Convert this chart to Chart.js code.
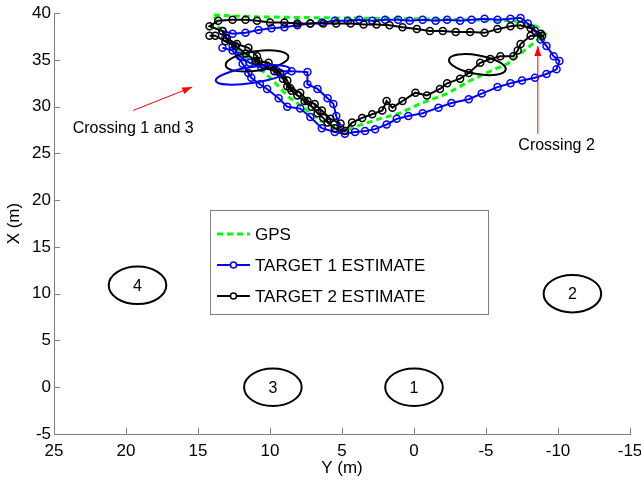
<!DOCTYPE html>
<html>
<head>
<meta charset="utf-8">
<script src="https://cdn.jsdelivr.net/npm/chart.js@4"></script>
<style>
  html, body { margin: 0; padding: 0; background: #fff; }
  #wrap { width: 641px; height: 483px; }
</style>
</head>
<body>
<div id="wrap"><canvas id="trackChart"></canvas></div>
<script>
// Horizontal axis is Y (m), vertical axis is X (m)
const gpsY = [13.9, 10.7, 5.8, -0.4, -6.9, -8.5, -9.1, -7.9, -6.5, -5.3, -3.9, -2.3, -0.4, 1.0, 2.4, 3.8, 4.8, 6.5, 7.4, 8.6, 10.0, 11.7, 12.9, 13.6, 13.9];
const gpsX = [39.8, 39.6, 39.5, 39.4, 39.2, 38.6, 37.8, 36.3, 34.6, 33.8, 32.8, 31.4, 30.3, 29.3, 28.7, 28.0, 27.4, 28.5, 29.6, 30.9, 33.1, 35.4, 37.0, 38.6, 39.8];

// Target 1 estimate
const t1Y = [5.1, 5.4, 5.6, 6.0, 6.7, 7.4, 7.4, 8.5, 9.5, 10.6, 11.4, 12.1, 12.6, 13.1, 13.3,
  12.6, 11.7, 10.8, 9.9, 9.0, 8.1, 7.2, 6.4, 5.5, 4.6, 3.8, 2.9, 2.0, 1.1, 0.3, -0.6, -1.5, -2.3, -3.2, -4.0, -4.9, -5.8, -6.7, -7.4,
  -7.9, -8.4, -8.8, -9.2, -9.7, -10.1, -9.9, -9.2, -8.4, -7.5, -6.7, -5.8, -4.7, -3.8, -2.6, -1.7, -0.6, 0.4, 1.2, 1.9, 2.7, 3.4, 4.1, 4.8,
  5.5, 6.4, 7.2, 7.9, 8.8, 9.4, 10.2, 10.7, 11.3, 11.5, 11.9, 12.6, 13.3];
const t1X = [27.7, 29.0, 30.3, 30.9, 31.9, 32.4, 33.7, 33.8, 33.8, 34.2, 34.7, 35.4, 36.5, 37.4, 38.1,
  37.8, 37.9, 38.2, 38.4, 38.5, 38.7, 38.9, 39.0, 39.2, 39.2, 39.3, 39.2, 39.3, 39.3, 39.2, 39.3, 39.2, 39.3, 39.2, 39.3, 39.4, 39.3, 39.4, 39.5,
  38.9, 38.1, 37.2, 36.5, 35.4, 34.9, 34.0, 33.5, 33.1, 32.8, 32.5, 32.1, 31.4, 30.8, 30.4, 29.9, 29.3, 29.0, 28.7, 28.1, 27.6, 27.4, 27.3, 27.1,
  27.3, 27.7, 28.9, 29.8, 30.0, 30.9, 31.9, 32.4, 33.1, 33.6, 34.6, 36.0, 36.3];

// Target 2 estimate
const t2Y = [5.1, 5.8, 6.4, 6.9, 7.4, 7.9, 8.6, 8.8, 9.3, 10.1, 10.8, 10.9, 11.5, 12.3, 13.0, 13.3, 14.2,
  13.6, 12.6, 11.7, 10.9, 10.0, 9.0, 8.1, 7.2, 6.3, 5.4, 4.4, 3.5, 2.6, 1.7, 0.8, -0.2, -1.1, -2.0, -2.9, -3.9, -4.9, -5.8, -6.7, -7.4, -8.1, -8.8,
  -8.9, -8.1, -7.4, -7.2, -6.9, -6.0, -5.3, -4.6, -3.8, -3.2, -2.3, -1.8, -0.9, -0.1, 0.8, 1.5, 1.9, 2.2, 2.9, 3.6, 4.3, 4.8,
  5.5, 6.0, 6.3, 6.7, 7.1, 7.6, 8.1, 8.5, 8.8, 9.1, 9.7, 10.4, 11.0, 11.7, 12.4, 13.1, 13.8, 14.2];
const t2X = [28.2, 28.7, 29.6, 30.3, 30.6, 31.5, 32.0, 32.8, 33.6, 34.7, 34.9, 35.4, 36.3, 36.7, 37.3, 38.1, 38.6,
  39.2, 39.3, 39.3, 39.2, 39.0, 39.0, 38.9, 38.9, 38.9, 38.9, 38.9, 38.8, 38.8, 38.7, 38.5, 38.3, 38.1, 38.1, 38.0, 38.0, 37.9, 38.3, 38.6, 38.7, 38.4, 37.8,
  37.6, 37.6, 36.7, 36.0, 35.4, 35.4, 35.1, 34.7, 33.6, 33.0, 32.5, 31.9, 31.2, 31.5, 30.6, 29.9, 30.6, 29.6, 29.2, 28.8, 28.3, 27.4,
  27.7, 28.3, 28.8, 29.3, 30.0, 30.6, 31.2, 31.7, 32.2, 33.0, 33.8, 34.4, 34.9, 35.7, 36.5, 37.0, 37.6, 37.6];

// Landmarks (circles of radius 2 m)
const landmarkLabels = ['1', '2', '3', '4'];
const landmarkY = [0, -11, 9.8, 19.2];
const landmarkX = [0, 10, 0, 10.9];
const landmarkRadius = 2;

// Error ellipses on the estimates
const errY = [10.9, -4.4, 11.2];
const errX = [34.9, 34.5, 33.4];
const errSemiY = [2.2, 2.0, 2.6];
const errSemiX = [1.05, 1.0, 0.85];
const errTilt = [-8, 10, -9];
const errTarget = [2, 2, 1];

// Crossing annotations
const noteText = ['Crossing 1 and 3', 'Crossing 2'];
const noteY = [19.5, -9.9];
const noteX = [27.7, 25.8];
const arrowTailY = [19.5, -8.6];
const arrowTailX = [29.6, 27.1];
const arrowHeadY = [15.4, -8.6];
const arrowHeadX = [32.1, 36.5];

const yTicks = [40, 35, 30, 25, 20, 15, 10, 5, 0, -5];
const xTicks = [25, 20, 15, 10, 5, 0, -5, -10, -15];

const FONT = "'Liberation Sans', Arial, sans-serif";
const toPoints = (ys, xs) => ys.map((v, i) => ({ x: v, y: xs[i] }));

// MATLAB style ticks pointing into the plot
const inwardTicks = {
    id: 'inwardTicks',
    afterDraw(chart) {
        const { ctx, chartArea: a, scales: { x, y } } = chart;
        ctx.save();
        ctx.strokeStyle = '#808080';
        ctx.lineWidth = 1;
        ctx.beginPath();
        x.ticks.forEach(t => {
            const px = Math.round(x.getPixelForValue(t.value)) + 0.5;
            ctx.moveTo(px, a.bottom);
            ctx.lineTo(px, a.bottom - 6);
        });
        y.ticks.forEach(t => {
            const py = Math.round(y.getPixelForValue(t.value)) + 0.5;
            ctx.moveTo(a.left, py);
            ctx.lineTo(a.left + 6, py);
        });
        ctx.stroke();
        ctx.restore();
    }
};

function ellipse(ctx, xs, ys, cy, cx, semiY, semiX, tilt) {
    const px = xs.getPixelForValue(cy);
    const py = ys.getPixelForValue(cx);
    const rx = Math.abs(xs.getPixelForValue(cy + semiY) - px);
    const ry = Math.abs(ys.getPixelForValue(cx + semiX) - py);
    ctx.beginPath();
    ctx.ellipse(px, py, rx, ry, tilt * Math.PI / 180, 0, Math.PI * 2);
    ctx.stroke();
    return [px, py];
}

// landmarks, error ellipses, arrows and notes
const overlays = {
    id: 'overlays',
    afterDatasetsDraw(chart) {
        const { ctx, scales: { x, y } } = chart;
        ctx.save();
        ctx.lineWidth = 2;
        ctx.strokeStyle = '#000';
        ctx.fillStyle = '#000';
        ctx.font = '16px ' + FONT;
        ctx.textAlign = 'center';
        ctx.textBaseline = 'middle';
        landmarkLabels.forEach((lbl, i) => {
            const [px, py] = ellipse(ctx, x, y, landmarkY[i], landmarkX[i], landmarkRadius, landmarkRadius, 0);
            ctx.fillText(lbl, px, py + 1);
        });

        errY.forEach((v, i) => {
            ctx.strokeStyle = errTarget[i] === 1 ? '#0000ff' : '#000';
            ellipse(ctx, x, y, v, errX[i], errSemiY[i], errSemiX[i], errTilt[i]);
        });

        ctx.strokeStyle = '#ff0000';
        ctx.fillStyle = '#ff0000';
        ctx.lineWidth = 1;
        noteText.forEach((txt, i) => {
            const x0 = x.getPixelForValue(arrowTailY[i]), y0 = y.getPixelForValue(arrowTailX[i]);
            const x1 = x.getPixelForValue(arrowHeadY[i]), y1 = y.getPixelForValue(arrowHeadX[i]);
            const ang = Math.atan2(y1 - y0, x1 - x0);
            ctx.beginPath();
            ctx.moveTo(x0, y0);
            ctx.lineTo(x1, y1);
            ctx.stroke();
            ctx.beginPath();
            ctx.moveTo(x1, y1);
            ctx.lineTo(x1 - 10 * Math.cos(ang) + 3.5 * Math.sin(ang), y1 - 10 * Math.sin(ang) - 3.5 * Math.cos(ang));
            ctx.lineTo(x1 - 10 * Math.cos(ang) - 3.5 * Math.sin(ang), y1 - 10 * Math.sin(ang) + 3.5 * Math.cos(ang));
            ctx.closePath();
            ctx.fill();
        });
        ctx.fillStyle = '#000';
        ctx.font = '16px ' + FONT;
        noteText.forEach((txt, i) => {
            ctx.fillText(txt, x.getPixelForValue(noteY[i]), y.getPixelForValue(noteX[i]));
        });
        ctx.restore();
    }
};

// boxed legend inside the axes
const boxLegend = {
    id: 'boxLegend',
    afterDraw(chart) {
        const ctx = chart.ctx;
        const left = 210, top = 210, w = 278, h = 104;
        const rows = [234, 265, 296];
        ctx.save();
        ctx.fillStyle = '#fff';
        ctx.fillRect(left, top, w, h);
        ctx.strokeStyle = '#808080';
        ctx.lineWidth = 1;
        ctx.strokeRect(left + 0.5, top + 0.5, w, h);
        ctx.font = '17px ' + FONT;
        ctx.textBaseline = 'middle';
        chart.data.datasets.forEach((ds, i) => {
            const yy = rows[i];
            ctx.strokeStyle = ds.borderColor;
            ctx.lineWidth = ds.borderWidth;
            ctx.setLineDash(ds.borderDash || []);
            ctx.beginPath();
            ctx.moveTo(217, yy);
            ctx.lineTo(250, yy);
            ctx.stroke();
            ctx.setLineDash([]);
            if (ds.pointRadius > 0) {
                ctx.lineWidth = 1.5;
                ctx.fillStyle = '#fff';
                ctx.beginPath();
                ctx.arc(233.5, yy, 3, 0, Math.PI * 2);
                ctx.fill();
                ctx.stroke();
            }
            ctx.fillStyle = '#000';
            ctx.fillText(ds.label, 255, yy + 1);
        });
        ctx.restore();
    }
};

const trackCtx = document.getElementById('trackChart').getContext('2d');
new Chart(trackCtx, {
    type: 'scatter',
    data: {
        datasets: [{
            label: 'GPS',
            data: toPoints(gpsY, gpsX),
            showLine: true,
            borderColor: '#00ff00',
            borderWidth: 3,
            borderDash: [6, 4],
            pointRadius: 0,
            order: 3
        }, {
            label: 'TARGET 1 ESTIMATE',
            data: toPoints(t1Y, t1X),
            showLine: true,
            borderColor: '#0000ff',
            borderWidth: 2,
            pointRadius: 3.5,
            pointBorderWidth: 1.5,
            pointBorderColor: '#0000ff',
            pointBackgroundColor: 'rgba(0,0,0,0)',
            order: 2
        }, {
            label: 'TARGET 2 ESTIMATE',
            data: toPoints(t2Y, t2X),
            showLine: true,
            borderColor: '#000000',
            borderWidth: 2,
            pointRadius: 3.5,
            pointBorderWidth: 1.5,
            pointBorderColor: '#000000',
            pointBackgroundColor: 'rgba(0,0,0,0)',
            order: 1
        }]
    },
    options: {
        responsive: true,
        maintainAspectRatio: false,
        animation: false,
        layout: { padding: { top: 12, right: 0, left: 0, bottom: 0 } },
        plugins: {
            legend: { display: false },
            tooltip: { enabled: false }
        },
        scales: {
            x: {
                type: 'linear',
                reverse: true,
                min: -15,
                max: 25,
                afterFit: s => { s.height = 49; s.paddingRight = 11; s.paddingLeft = 0; },
                afterBuildTicks: s => { s.ticks = xTicks.map(v => ({ value: v })); },
                grid: { display: false, drawTicks: false },
                border: { color: '#808080' },
                ticks: { padding: 7, color: '#000', font: { family: FONT, size: 17 } },
                title: { display: true, text: 'Y (m)', color: '#000', font: { family: FONT, size: 17 }, padding: { top: 0, bottom: 4 } }
            },
            y: {
                type: 'linear',
                min: -5,
                max: 40,
                afterFit: s => { s.width = 54; },
                afterBuildTicks: s => { s.ticks = yTicks.map(v => ({ value: v })); },
                grid: { display: false, drawTicks: false },
                border: { color: '#808080' },
                ticks: { padding: 3, color: '#000', font: { family: FONT, size: 17 } },
                title: { display: true, text: 'X (m)', color: '#000', font: { family: FONT, size: 17 }, padding: { top: 4, bottom: 0 } }
            }
        }
    },
    plugins: [inwardTicks, overlays, boxLegend]
});
</script>
</body>
</html>
